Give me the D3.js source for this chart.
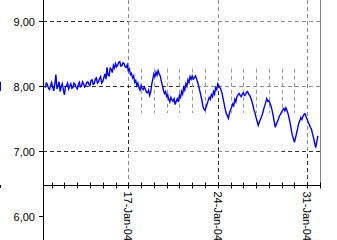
<!DOCTYPE html>
<html lang="en">
<head>
<meta charset="utf-8">
<title>Daily rate, January 2004</title>
<script src="https://d3js.org/d3.v7.min.js"></script>
<style>
  body { margin: 0; background: #fff; }
  svg text { font-family: "Liberation Sans", Arial, sans-serif; font-size: 11px; fill: #000; }
</style>
</head>
<body>
<svg width="337" height="240"></svg>
<script>
  // samples every 2 hours, starting 10 Jan 2004 12:00
  var start = new Date(2004, 0, 10, 12);
  var stepHours = 2;
  var values = [
    7.97, 8.04, 8.02, 7.96, 7.94, 8.00, 8.05, 7.98, 7.92, 8.02,
    8.17, 7.95, 8.00, 8.06, 7.91, 7.99, 8.03, 7.94, 7.86, 7.98,
    8.00, 8.04, 7.95, 7.99, 8.03, 7.96, 7.97, 8.04, 8.02, 7.98,
    7.95, 8.01, 8.05, 7.98, 7.99, 8.06, 8.03, 7.98, 8.00, 8.05,
    8.06, 8.02, 8.00, 8.08, 8.09, 8.02, 8.03, 8.10, 8.12, 8.04,
    8.06, 8.11, 8.14, 8.04, 8.06, 8.12, 8.18, 8.10, 8.28, 8.16,
    8.15, 8.27, 8.25, 8.20, 8.31, 8.27, 8.34, 8.29, 8.31, 8.36,
    8.37, 8.30, 8.31, 8.35, 8.34, 8.29, 8.28, 8.32, 8.23, 8.26,
    8.17, 8.19, 8.12, 8.15, 8.05, 8.08, 8.00, 8.04, 7.97, 7.93,
    8.00, 7.96, 7.94, 7.98, 7.95, 7.90, 7.89, 7.93, 7.85, 7.90,
    8.02, 8.10, 8.18, 8.14, 8.21, 8.16, 8.23, 8.18, 8.15, 8.07,
    8.00, 7.93, 7.88, 7.91, 7.83, 7.86, 7.79, 7.75, 7.82, 7.78,
    7.76, 7.80, 7.71, 7.76, 7.80, 7.75, 7.85, 7.82, 7.91, 7.87,
    7.97, 7.93, 8.03, 7.99, 8.09, 8.05, 8.14, 8.10, 8.15, 8.10,
    8.12, 8.15, 8.11, 8.06, 8.00, 7.93, 7.86, 7.78, 7.69, 7.64,
    7.62, 7.67, 7.72, 7.77, 7.82, 7.79, 7.86, 7.83, 7.91, 7.87,
    7.97, 7.94, 8.03, 8.00, 7.97, 7.94, 7.89, 7.80, 7.72, 7.64,
    7.57, 7.54, 7.50, 7.58, 7.63, 7.67, 7.72, 7.69, 7.79, 7.75,
    7.83, 7.86, 7.88, 7.85, 7.83, 7.87, 7.89, 7.85, 7.86, 7.90,
    7.91, 7.87, 7.85, 7.81, 7.76, 7.70, 7.63, 7.58, 7.51, 7.45,
    7.39, 7.44, 7.48, 7.52, 7.57, 7.63, 7.69, 7.74, 7.80, 7.76,
    7.77, 7.73, 7.69, 7.62, 7.54, 7.45, 7.36, 7.41, 7.45, 7.49,
    7.54, 7.56, 7.60, 7.63, 7.65, 7.61, 7.66, 7.62, 7.57, 7.50,
    7.42, 7.33, 7.24, 7.19, 7.13, 7.20, 7.27, 7.34, 7.42, 7.46,
    7.51, 7.48, 7.53, 7.56, 7.57, 7.52, 7.48, 7.44, 7.40, 7.36,
    7.33, 7.26, 7.20, 7.12, 7.05, 7.14, 7.23
  ];

  var yTicks = [6, 7, 8, 9];
  var gridValues = [7, 8, 9];
  var majorDays = [17, 24, 31];
  var minorDays = [18, 19, 20, 21, 22, 23, 25, 26, 27, 28, 29, 30];
  var tickDays = [11, 12, 13, 14, 15, 16, 17, 18, 19, 20, 21, 22, 23, 24, 25, 26, 27, 28, 29, 30, 31, 32];
  var minorSpan = [7.58, 8.26];
  var axisCross = 6.48;   // value where the date axis sits

  // darker stretches of the grid
  var darkH = [
    { v: 9, from: new Date(2004, 0, 10), to: new Date(2004, 0, 17) },
    { v: 8, from: new Date(2004, 0, 10), to: new Date(2004, 0, 22, 9) },
    { v: 7, from: new Date(2004, 0, 10), to: new Date(2004, 0, 17) },
    { v: 7, from: new Date(2004, 0, 29, 1), to: new Date(2004, 1, 1) }
  ];
  var darkV = [
    { day: 17, from: 7, to: 8 },
    { day: 24, from: axisCross, to: 8 },
    { day: 31, from: axisCross, to: 7 }
  ];

  var data = values.map(function(v, i) {
    return { date: d3.timeHour.offset(start, i * stepHours), value: v };
  });

  var svg = d3.select("svg");
  var left = 43, right = 320;

  var x = d3.scaleTime()
    .domain([new Date(2004, 0, 10, 7, 48), new Date(2004, 1, 1)])
    .range([left, right]);
  var y = d3.scaleLinear().domain([6, 9]).range([216, 20.5]);

  var day = function(d) { return new Date(2004, 0, d); };
  var axisY = Math.round(y(axisCross)) + 0.5;
  var dash = "4,3";

  // horizontal grid
  gridValues.forEach(function(v) {
    svg.append("line")
      .attr("x1", left).attr("x2", right)
      .attr("y1", Math.round(y(v)) + 0.5).attr("y2", Math.round(y(v)) + 0.5)
      .attr("stroke", "#8c8c8c").attr("stroke-dasharray", dash);
  });
  darkH.forEach(function(s) {
    var x1 = Math.max(left, x(s.from)), x2 = Math.min(right, x(s.to));
    svg.append("line")
      .attr("x1", x1).attr("x2", x2)
      .attr("y1", Math.round(y(s.v)) + 0.5).attr("y2", Math.round(y(s.v)) + 0.5)
      .attr("stroke", "#303030").attr("stroke-dasharray", dash)
      .attr("stroke-dashoffset", x1 - left);
  });

  // vertical grid
  majorDays.forEach(function(d) {
    svg.append("line")
      .attr("x1", Math.round(x(day(d))) + 0.5).attr("x2", Math.round(x(day(d))) + 0.5)
      .attr("y1", 0).attr("y2", axisY)
      .attr("stroke", "#8c8c8c").attr("stroke-dasharray", dash);
  });
  darkV.forEach(function(s) {
    var y1 = y(s.to), y2 = y(s.from);
    svg.append("line")
      .attr("x1", Math.round(x(day(s.day))) + 0.5).attr("x2", Math.round(x(day(s.day))) + 0.5)
      .attr("y1", y1).attr("y2", Math.min(y2, axisY))
      .attr("stroke", "#303030").attr("stroke-dasharray", dash)
      .attr("stroke-dashoffset", y1);
  });
  minorDays.forEach(function(d) {
    svg.append("line")
      .attr("x1", Math.round(x(day(d))) + 0.5).attr("x2", Math.round(x(day(d))) + 0.5)
      .attr("y1", y(minorSpan[1])).attr("y2", y(minorSpan[0]))
      .attr("stroke", "#999").attr("stroke-dasharray", dash);
  });

  // right border of the plot
  svg.append("line")
    .attr("x1", right + 0.5).attr("x2", right + 0.5)
    .attr("y1", 0).attr("y2", axisY)
    .attr("stroke", "#808080");

  // series
  var line = d3.line()
    .x(function(d) { return x(d.date); })
    .y(function(d) { return y(d.value); });

  svg.append("path")
    .datum(data)
    .attr("d", line)
    .attr("fill", "none")
    .attr("stroke", "#0000ff")
    .attr("stroke-width", 1.4)
    .attr("stroke-linejoin", "miter");

  // value axis
  svg.append("line")
    .attr("x1", left + 0.5).attr("x2", left + 0.5)
    .attr("y1", 0).attr("y2", 240)
    .attr("stroke", "#000");
  yTicks.forEach(function(v) {
    var ty = Math.round(y(v)) + 0.5;
    svg.append("line")
      .attr("x1", left - 4).attr("x2", left)
      .attr("y1", ty).attr("y2", ty)
      .attr("stroke", "#000");
    svg.append("text")
      .attr("x", left - 8).attr("y", ty)
      .attr("dy", "0.42em")
      .attr("text-anchor", "end")
      .text(d3.format(".2f")(v).replace(".", ","));
  });

  // date axis
  svg.append("line")
    .attr("x1", left).attr("x2", right + 1)
    .attr("y1", axisY).attr("y2", axisY)
    .attr("stroke", "#000");
  tickDays.forEach(function(d) {
    var tx = Math.round(x(day(d))) + 0.5;
    svg.append("line")
      .attr("x1", tx).attr("x2", tx)
      .attr("y1", axisY - 3).attr("y2", axisY + 3)
      .attr("stroke", "#000");
  });
  var fmt = d3.timeFormat("%d-%b-%y");
  majorDays.forEach(function(d) {
    var tx = x(day(d));
    svg.append("text")
      .attr("transform", "translate(" + tx + "," + (axisY + 6) + ") rotate(90)")
      .attr("dy", "0.35em")
      .text(fmt(day(d)));
  });

  // slivers of the neighbouring panel on the left edge
  svg.append("rect")
    .attr("x", 0).attr("y", y(8.06)).attr("width", 1).attr("height", y(7.92) - y(8.06))
    .attr("fill", "#0000ff");
  svg.append("rect")
    .attr("x", 0).attr("y", axisY - 0.5).attr("width", 1).attr("height", 3)
    .attr("fill", "#000");
</script>
</body>
</html>
